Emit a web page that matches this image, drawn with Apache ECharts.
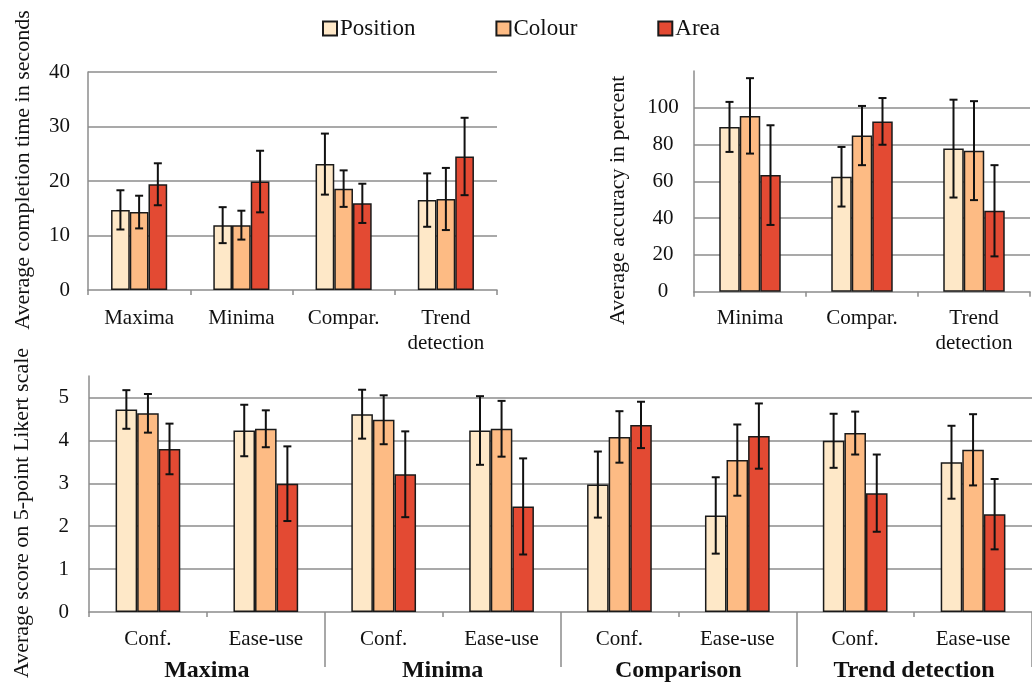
<!DOCTYPE html>
<html><head><meta charset="utf-8">
<script src="https://cdn.jsdelivr.net/npm/echarts@6/dist/echarts.min.js"></script>
<style>html,body{margin:0;padding:0;background:#fff}#c{width:1032px;height:686px}</style>
</head><body><div id="c"></div>
<script>
// ---- data ----
const seriesNames = ['Position', 'Colour', 'Area'];

const timeCategories = ['Maxima', 'Minima', 'Compar.', 'Trend\ndetection'];
const timePosition   = [14.7, 11.9, 23.1, 16.5];
const timePositionSD = [3.6, 3.3, 5.6, 4.9];
const timeColour     = [14.3, 11.9, 18.6, 16.7];
const timeColourSD   = [3.0, 2.65, 3.35, 5.7];
const timeArea       = [19.4, 19.9, 15.9, 24.5];
const timeAreaSD     = [3.85, 5.65, 3.6, 7.1];
const timeTicks      = [0, 10, 20, 30, 40];

const accCategories  = ['Minima', 'Compar.', 'Trend\ndetection'];
const accPosition    = [89.6, 62.5, 77.8];
const accPositionSD  = [13.6, 16.2, 26.6];
const accColour      = [95.6, 84.9, 76.7];
const accColourSD    = [20.5, 16.1, 26.9];
const accArea        = [63.4, 92.6, 44.0];
const accAreaSD      = [27.1, 12.7, 24.8];
const accTicks       = [0, 20, 40, 60, 80, 100];

const likertCategories = ['Conf.', 'Ease-use', 'Conf.', 'Ease-use', 'Conf.', 'Ease-use', 'Conf.', 'Ease-use'];
const likertGroups     = ['Maxima', 'Minima', 'Comparison', 'Trend detection'];
const likertPosition   = [4.72, 4.23, 4.61, 4.23, 2.97, 2.25, 3.99, 3.49];
const likertPositionSD = [0.45, 0.60, 0.57, 0.80, 0.77, 0.89, 0.63, 0.85];
const likertColour     = [4.63, 4.27, 4.48, 4.27, 4.08, 3.54, 4.17, 3.78];
const likertColourSD   = [0.45, 0.43, 0.57, 0.65, 0.60, 0.83, 0.50, 0.83];
const likertArea       = [3.80, 2.99, 3.21, 2.46, 4.36, 4.10, 2.77, 2.28];
const likertAreaSD     = [0.59, 0.87, 1.00, 1.12, 0.54, 0.76, 0.90, 0.82];
const likertTicks      = [0, 1, 2, 3, 4, 5];

// ---- styling ----
const colors = ['#fee8c8', '#fdbb84', '#e34a33'];
const FONT = 'Liberation Serif';
const GRID_C = '#8c8c8c';
const BAR_FRAC = 0.183;

const chart = echarts.init(document.getElementById('c'), null, {renderer: 'canvas'});

function xCat(gridIndex, data, margin) {
  return {
    type: 'category', gridIndex, data,
    axisLine: {show: true, lineStyle: {color: GRID_C, width: 1.5}},
    axisTick: {show: true, length: 5, lineStyle: {color: GRID_C, width: 1.5}},
    axisLabel: {interval: 0, margin, color: '#111', fontFamily: FONT, fontSize: 21, lineHeight: 25},
    splitLine: {show: false}
  };
}
function yVal(gridIndex, ticks, max, name, gap, pad, labelOpts) {
  const interval = ticks[1] - ticks[0];
  return {
    type: 'value', gridIndex, min: ticks[0], max, interval,
    name, nameLocation: 'middle', nameGap: gap,
    nameTextStyle: {fontFamily: FONT, fontSize: 22, color: '#111', padding: pad},
    axisLine: {show: true, lineStyle: {color: GRID_C, width: 1.5}},
    axisTick: {show: false},
    axisLabel: Object.assign({showMaxLabel: max === ticks[ticks.length - 1], color: '#111', fontFamily: FONT, fontSize: 21}, labelOpts || {}),
    splitLine: {show: true, showMinLine: false, showMaxLine: max === ticks[ticks.length - 1], lineStyle: {color: GRID_C, width: 1.5}}
  };
}
function barSeries(k, xi, yi, data) {
  return {
    type: 'bar', name: seriesNames[k], xAxisIndex: xi, yAxisIndex: yi, data,
    barWidth: (BAR_FRAC * 100) + '%', barGap: '0%',
    itemStyle: {color: colors[k], borderColor: '#1a1a1a', borderWidth: 1.5},
    emphasis: {disabled: true}, z: 3
  };
}
function errSeries(k, xi, yi, means, sds) {
  return {
    type: 'custom', xAxisIndex: xi, yAxisIndex: yi, z: 10, silent: true, clip: false,
    data: means.map((m, i) => [i, m - sds[i], m + sds[i]]),
    encode: {x: 0, y: [1, 2]},
    renderItem(params, api) {
      const band = api.size([1, 0])[0];
      const off = (k - 1) * band * BAR_FRAC;
      const lo = api.coord([api.value(0), api.value(1)]);
      const hi = api.coord([api.value(0), api.value(2)]);
      const x = lo[0] + off, cap = 4;
      const style = {stroke: '#111', lineWidth: 2};
      return {type: 'group', children: [
        {type: 'line', shape: {x1: x, y1: lo[1], x2: x, y2: hi[1]}, style},
        {type: 'line', shape: {x1: x - cap, y1: hi[1], x2: x + cap, y2: hi[1]}, style},
        {type: 'line', shape: {x1: x - cap, y1: lo[1], x2: x + cap, y2: lo[1]}, style}
      ]};
    }
  };
}

const groupAxis = {
  type: 'category', gridIndex: 2, data: likertGroups, position: 'bottom',
  axisLine: {show: false},
  axisTick: {show: true, length: 55, interval: (i) => i > 0, lineStyle: {color: GRID_C, width: 1.5}},
  axisLabel: {interval: 0, margin: 47, color: '#111', fontFamily: FONT, fontSize: 24, fontWeight: 'bold'},
  splitLine: {show: false}
};

const option = {
  animation: false,
  backgroundColor: '#fff',
  legend: {
    data: seriesNames, top: 12, left: 317, itemGap: 80, icon: 'rect',
    itemWidth: 14, itemHeight: 14,
    textStyle: {fontFamily: FONT, fontSize: 23, color: '#111', padding: [0, 0, 0, -2]},
    selectedMode: false
  },
  grid: [
    {left: 88, top: 72, width: 409, height: 218},
    {left: 694, top: 71, width: 336, height: 220.7},
    {left: 89, top: 376, width: 947, height: 236}
  ],
  xAxis: [
    xCat(0, timeCategories, 16),
    xCat(1, accCategories, 14),
    xCat(2, likertCategories, 15),
    groupAxis
  ],
  yAxis: [
    yVal(0, timeTicks, 40, 'Average completion time in seconds', 54, [0, 0, 0, 22], {margin: 18}),
    yVal(1, accTicks, 120, 'Average accuracy in percent', 65, [0, 38, 0, 0], {align: 'center', margin: 31}),
    yVal(2, likertTicks, 5.5, 'Average score on 5-point Likert scale', 56, [0, 38, 0, 0], {margin: 20})
  ],
  series: [
    barSeries(0, 0, 0, timePosition), barSeries(1, 0, 0, timeColour), barSeries(2, 0, 0, timeArea),
    errSeries(0, 0, 0, timePosition, timePositionSD), errSeries(1, 0, 0, timeColour, timeColourSD), errSeries(2, 0, 0, timeArea, timeAreaSD),
    barSeries(0, 1, 1, accPosition), barSeries(1, 1, 1, accColour), barSeries(2, 1, 1, accArea),
    errSeries(0, 1, 1, accPosition, accPositionSD), errSeries(1, 1, 1, accColour, accColourSD), errSeries(2, 1, 1, accArea, accAreaSD),
    barSeries(0, 2, 2, likertPosition), barSeries(1, 2, 2, likertColour), barSeries(2, 2, 2, likertArea),
    errSeries(0, 2, 2, likertPosition, likertPositionSD), errSeries(1, 2, 2, likertColour, likertColourSD), errSeries(2, 2, 2, likertArea, likertAreaSD)
  ]
};
chart.setOption(option);
</script>
</body></html>
